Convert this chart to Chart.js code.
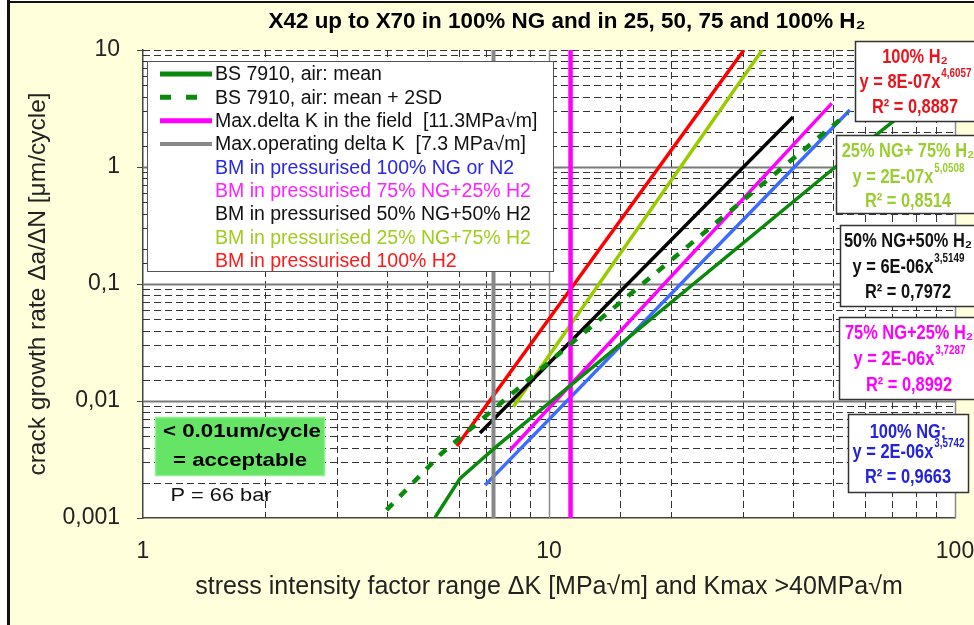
<!DOCTYPE html>
<html>
<head>
<meta charset="utf-8">
<script src="https://cdn.jsdelivr.net/npm/chart.js@4"></script>
<style>
  html, body { margin: 0; padding: 0; background: #fff; }
  #wrap { width: 974px; height: 625px; position: relative; }
</style>
</head>
<body>
<div id="wrap"><canvas id="c" width="974" height="625"></canvas></div>
<script>
// ---- chart text ----
const chartTitle = 'X42 up to X70 in 100% NG and in 25, 50, 75 and 100% H₂';
const xAxisTitle = 'stress intensity factor range ΔK [MPa√m] and Kmax >40MPa√m';
const yAxisTitle = 'crack growth rate Δa/ΔN [μm/cycle]';

// ---- axis ticks ----
const xTickValues = [1, 10, 100];
const xTickLabels = ['1', '10', '100'];
const yTickValues = [0.001, 0.01, 0.1, 1, 10];
const yTickLabels = ['0,001', '0,01', '0,1', '1', '10'];

// ---- BS 7910 reference curves (ΔK in MPa√m, da/dN in μm/cycle) ----
const bsMeanK    = [5.24, 6.04, 6.51, 7.49, 49.7, 72];
const bsMeanRate = [0.00101, 0.00218, 0.00274, 0.0042, 0.943, 2.6];
const bs2sdK     = [3.98, 5.44, 12.27, 54.5];
const bs2sdRate  = [0.00117, 0.00357, 0.0391, 2.89];

// ---- base metal fits in pressurised gas ----
const ng100K  = [6.96, 55.1];  const ng100Rate = [0.00191, 3.07];
const h25K    = [8.02, 49.7];  const h25Rate   = [0.00381, 3.5];
const h50K    = [6.76, 39.9];  const h50Rate   = [0.00533, 2.68];
const h75K    = [8.17, 33.5];  const h75Rate   = [0.00893, 10];
const h100K   = [5.93, 30.2];  const h100Rate  = [0.00412, 10];

// ---- reference ΔK levels ----
const fieldDeltaK = 11.3;
const operatingDeltaK = 7.3;
const rateSpan = [0.001, 10];

// ---- legend ----
const legendLabels = [
  'BS 7910, air: mean',
  'BS 7910, air: mean + 2SD',
  'Max.delta K in the field  [11.3MPa√m]',
  'Max.operating delta K  [7.3 MPa√m]',
  'BM in pressurised 100% NG or N2',
  'BM in pressurised 75% NG+25% H2',
  'BM in pressurised 50% NG+50% H2',
  'BM in pressurised 25% NG+75% H2',
  'BM in pressurised 100% H2'
];

// ---- power-law fit annotations ----
const fitTitles = ['100% H₂', '25% NG+ 75% H₂', '50% NG+50% H₂', '75% NG+25% H₂', '100% NG:'];
const fitCoef   = ['8E-07', '2E-07', '6E-06', '2E-06', '2E-06'];
const fitExp    = ['4,6057', '5,0508', '3,5149', '3,7287', '3,5742'];
const fitR2     = ['0,8887', '0,8514', '0,7972', '0,8992', '0,9663'];

// ---- notes ----
const noteLines = ['< 0.01um/cycle', '= acceptable'];
const pressureNote = 'P = 66 bar';

// ---- colours ----
const C = {
  green: '#0a8a0a', magenta: '#ff00ff', grey: '#888888', blue: '#3d6bff',
  black: '#000000', yg: '#99cc00', red: '#ff0000'
};
const legendTextColors = ['#111', '#111', '#111', '#111', '#2828e6', '#ff22ff', '#111', '#a0cd1e', '#ff1a1a'];
const fitColors = ['#e8141e', '#9acd32', '#111111', '#ff00ff', '#2323dd'];

const FONT = '"Liberation Sans", Arial, sans-serif';
Chart.defaults.font.family = FONT;

const pts = (xs, ys) => xs.map((x, i) => ({ x, y: ys[i] }));
const isDecade = v => Math.abs(Math.log10(v) - Math.round(Math.log10(v))) < 1e-6;
const labelFor = (values, labels) => v => {
  const i = values.findIndex(t => Math.abs(t - v) <= t * 1e-6);
  return i < 0 ? '' : labels[i];
};

function line(label, data, color, width, dash) {
  return {
    label, data, borderColor: color, backgroundColor: color, borderWidth: width,
    borderDash: dash || [], showLine: true, pointRadius: 0, fill: false, tension: 0
  };
}

// text helpers
function stretchedText(ctx, text, x, y, font, color, sx, align) {
  ctx.save();
  ctx.font = font;
  ctx.fillStyle = color;
  ctx.textBaseline = 'middle';
  ctx.textAlign = align || 'center';
  ctx.translate(x, y);
  ctx.scale(sx, 1);
  ctx.fillText(text, 0, 0);
  ctx.restore();
}
function fittedText(ctx, text, cx, cy, font, color, width) {
  ctx.save();
  ctx.font = font;
  const w = ctx.measureText(text).width;
  ctx.restore();
  stretchedText(ctx, text, cx, cy, font, color, width / w, 'center');
}

// boxes holding the fitted equations (x, y, w, h, centre x, row y's)
const fitBoxes = [
  { x: 855, y: 41,  w: 130, h: 80, cx: 915, rows: [57, 82, 107] },
  { x: 836, y: 135, w: 150, h: 78, cx: 908, rows: [151, 177, 201] },
  { x: 840, y: 225, w: 146, h: 81, cx: 908, rows: [241, 267, 292] },
  { x: 839, y: 317, w: 147, h: 82, cx: 909, rows: [333, 359, 385] },
  { x: 848, y: 414, w: 120, h: 78, cx: 908, rows: [432, 452, 477] }
];

const decor = {
  id: 'decor',
  beforeDraw(chart) {
    const { ctx, chartArea: a } = chart;
    ctx.save();
    ctx.fillStyle = '#ffffff';
    ctx.fillRect(0, 0, chart.width, chart.height);
    ctx.fillStyle = '#ffffdc';
    ctx.fillRect(8, 2, chart.width - 8, chart.height - 2);
    ctx.fillStyle = '#111';
    ctx.fillRect(7, 0, 3, chart.height);
    ctx.fillRect(7, 1, chart.width - 7, 2);
    ctx.fillStyle = '#ffffff';
    ctx.fillRect(a.left, a.top, a.right - a.left, a.bottom - a.top);
    ctx.restore();
  },
  beforeDatasetsDraw(chart) {
    const { ctx, chartArea: a, scales: { x, y } } = chart;
    ctx.save();
    // vertical grid
    x.ticks.forEach(t => {
      const px = Math.round(x.getPixelForValue(t.value)) + 0.5;
      if (px <= a.left + 1) return;
      ctx.beginPath();
      if (isDecade(t.value)) {
        ctx.setLineDash([]); ctx.strokeStyle = '#8a8a8a'; ctx.lineWidth = 1.5;
      } else {
        ctx.setLineDash([7, 4]); ctx.strokeStyle = '#333'; ctx.lineWidth = 1;
      }
      ctx.moveTo(px, a.top); ctx.lineTo(px, a.bottom); ctx.stroke();
    });
    // horizontal grid
    y.ticks.forEach(t => {
      const py = Math.round(y.getPixelForValue(t.value)) + 0.5;
      if (py >= a.bottom - 1) return;
      ctx.beginPath();
      if (isDecade(t.value) && py > a.top + 1) {
        ctx.setLineDash([]); ctx.strokeStyle = '#7a7a7a'; ctx.lineWidth = 2;
      } else {
        ctx.setLineDash([7, 4]); ctx.strokeStyle = '#333'; ctx.lineWidth = 1;
      }
      ctx.moveTo(a.left, py); ctx.lineTo(a.right, py); ctx.stroke();
    });
    ctx.restore();
  },
  afterDatasetsDraw(chart) {
    const { ctx } = chart;
    ctx.save();

    // title
    fittedText(ctx, chartTitle, 567, 22, 'bold 22px ' + FONT, '#000', 597);

    // legend panel
    ctx.fillStyle = '#fff';
    ctx.fillRect(147.5, 61.5, 406, 210);
    ctx.strokeStyle = '#555'; ctx.lineWidth = 1;
    ctx.strokeRect(147.5, 61.5, 406, 210);
    const ds = chart.data.datasets;
    legendLabels.forEach((lab, i) => {
      const ry = 74 + i * 23.35;
      if (i < 4) {
        ctx.save();
        ctx.beginPath();
        ctx.strokeStyle = ds[i].borderColor;
        ctx.lineWidth = i === 3 ? 4 : 5;
        ctx.setLineDash(i === 1 ? [11, 15] : []);
        ctx.moveTo(160, ry); ctx.lineTo(212, ry); ctx.stroke();
        ctx.restore();
      }
      stretchedText(ctx, lab, 215, ry + 1, '19.5px ' + FONT, legendTextColors[i], 1, 'left');
    });

    // fitted equations
    const sx = 0.82;
    fitBoxes.forEach((b, i) => {
      ctx.fillStyle = '#fff';
      ctx.fillRect(b.x, b.y, b.w, b.h);
      ctx.strokeStyle = '#333'; ctx.lineWidth = 1.5;
      ctx.strokeRect(b.x + 0.5, b.y + 0.5, b.w, b.h);
      const col = fitColors[i];
      const big = 'bold 20px ' + FONT, small = 'bold 12px ' + FONT;
      stretchedText(ctx, fitTitles[i], b.cx, b.rows[0], big, col, sx, 'center');
      const main = 'y = ' + fitCoef[i] + 'x';
      ctx.font = big; const w1 = ctx.measureText(main).width * sx;
      ctx.font = small; const w2 = ctx.measureText(fitExp[i]).width * sx;
      const x0 = b.cx - (w1 + w2) / 2;
      stretchedText(ctx, main, x0, b.rows[1], big, col, sx, 'left');
      stretchedText(ctx, fitExp[i], x0 + w1 + 1, b.rows[1] - 8, small, col, sx, 'left');
      stretchedText(ctx, 'R² = ' + fitR2[i], b.cx, b.rows[2], big, col, sx, 'center');
    });

    // acceptance note
    ctx.fillStyle = '#66e466';
    ctx.fillRect(155, 417, 170, 59);
    ctx.strokeStyle = '#8ef08e'; ctx.lineWidth = 1.5;
    ctx.strokeRect(155.5, 417.5, 169, 58);
    fittedText(ctx, noteLines[0], 242, 432, 'bold 19px ' + FONT, '#000', 158);
    fittedText(ctx, noteLines[1], 240, 461, 'bold 19px ' + FONT, '#000', 134);
    fittedText(ctx, pressureNote, 221, 496, '19px ' + FONT, '#111', 101);

    ctx.restore();
  }
};

new Chart(document.getElementById('c'), {
  type: 'scatter',
  data: {
    datasets: [
      line(legendLabels[0], pts(bsMeanK, bsMeanRate), C.green, 3.5),
      line(legendLabels[1], pts(bs2sdK, bs2sdRate), C.green, 4.5, [9, 10]),
      line(legendLabels[2], pts([fieldDeltaK, fieldDeltaK], rateSpan), C.magenta, 4.5),
      line(legendLabels[3], pts([operatingDeltaK, operatingDeltaK], rateSpan), C.grey, 4),
      line(legendLabels[4], pts(ng100K, ng100Rate), C.blue, 3.5),
      line(legendLabels[5], pts(h25K, h25Rate), C.magenta, 3.5),
      line(legendLabels[6], pts(h50K, h50Rate), C.black, 3.5),
      line(legendLabels[7], pts(h75K, h75Rate), C.yg, 3.5),
      line(legendLabels[8], pts(h100K, h100Rate), C.red, 3.5)
    ]
  },
  options: {
    responsive: false,
    animation: false,
    events: [],
    layout: { padding: { left: 0, right: 19, top: 50, bottom: 0 } },
    plugins: { legend: { display: false }, tooltip: { enabled: false }, title: { display: false } },
    scales: {
      x: {
        type: 'logarithmic', position: 'bottom', min: 1, max: 100,
        ticks: {
          autoSkip: false, maxRotation: 0, padding: 20, color: '#222',
          font: { size: 23 }, callback: labelFor(xTickValues, xTickLabels)
        },
        grid: { display: true, drawOnChartArea: false, drawTicks: false },
        border: { display: true, color: '#444', width: 1.5 },
        title: { display: true, text: xAxisTitle, color: '#222', font: { size: 25 }, padding: { top: 0, bottom: 23 } },
        afterFit: s => { s.height = 107; s.paddingLeft = 0; s.paddingRight = 0; }
      },
      y: {
        type: 'logarithmic', position: 'left', min: 0.001, max: 10,
        ticks: {
          autoSkip: false, padding: 17, color: '#222',
          font: { size: 23 }, callback: labelFor(yTickValues, yTickLabels)
        },
        grid: {
          display: true, drawOnChartArea: false, drawTicks: true, tickLength: 6,
          tickColor: c => (c.tick && isDecade(c.tick.value)) ? '#444' : 'rgba(0,0,0,0)'
        },
        border: { display: true, color: '#444', width: 1.5 },
        title: { display: true, text: yAxisTitle, color: '#222', font: { size: 24.5 }, padding: { top: 23.3, bottom: 0 } },
        afterFit: s => { s.width = 143; s.paddingTop = 0; s.paddingBottom = 0; }
      }
    }
  },
  plugins: [decor]
});
</script>
</body>
</html>
